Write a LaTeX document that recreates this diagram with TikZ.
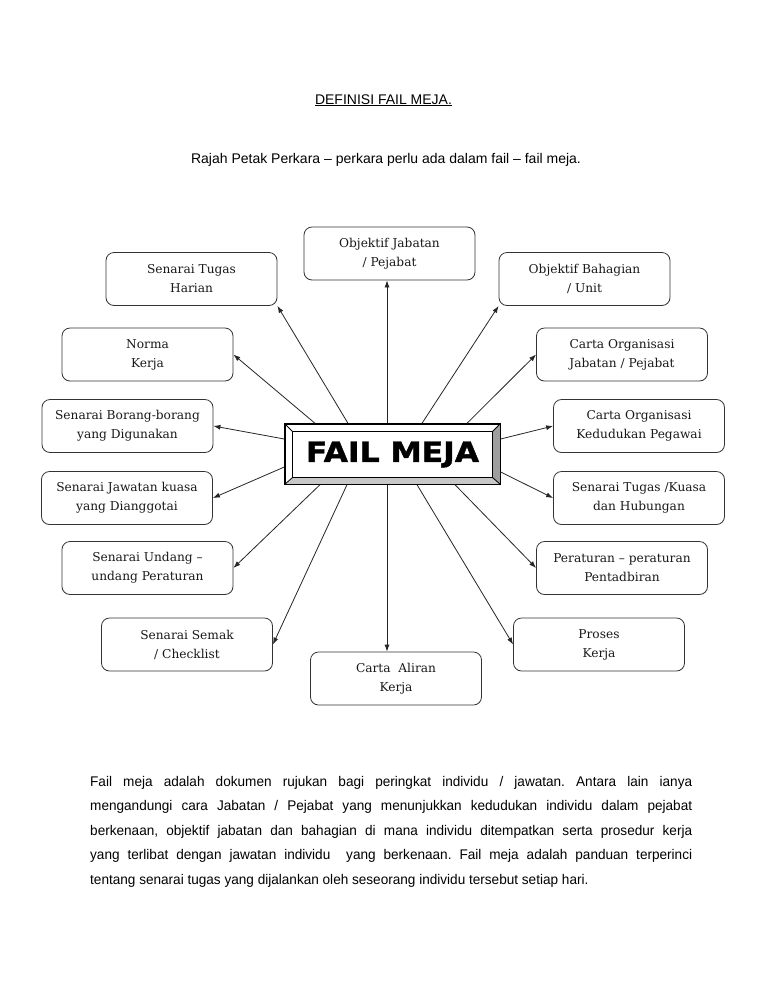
\documentclass[tikz,border=0pt]{standalone}
\usepackage{fontspec}
\usetikzlibrary{arrows.meta}
\setmainfont{Liberation Sans}
\newfontfamily\boxfont{DejaVu Serif}
\newfontfamily\narrowfont[FakeStretch=0.97]{Liberation Sans}
\newfontfamily\blackfont[FakeStretch=1.12, BoldFeatures={FakeBold=1.6}]{DejaVu Sans}

\tikzset{
    itembox/.style={draw=black!80, line width=0.8pt, rounded corners=8pt,
        minimum width=171pt, minimum height=53pt, inner sep=2pt, align=center,
        text=black!90, font=\boxfont\fontsize{12.2}{19}\selectfont},
    arr/.style={-{Latex[length=7pt,width=5pt]}, line width=0.8pt, black!85},
}

\begin{document}
\begin{tikzpicture}[x=1pt, y=-1pt]
    \useasboundingbox[fill=white] (0,0) rectangle (768,994);

    % titles
    \node[anchor=base, font=\fontsize{14}{17}\selectfont] (title) at (383.5,104) {\underline{DEFINISI FAIL MEJA.}};
    \node[anchor=base, font=\fontsize{14}{17}\selectfont] (subtitle) at (386,163) {Rajah Petak Perkara – perkara perlu ada dalam fail – fail meja.};

    % centre box
    \node[draw, line width=1.4pt, fill=white, minimum width=215pt, minimum height=60pt, inner sep=0pt] (fm) at (392.5,454) {};
    \fill[black!22] (fm.south west) -- (fm.south east) -- ([xshift=-8pt,yshift=7pt]fm.south east) -- ([xshift=8pt,yshift=7pt]fm.south west) -- cycle;
    \fill[black!38] (fm.south east) -- (fm.north east) -- ([xshift=-8pt,yshift=-8pt]fm.north east) -- ([xshift=-8pt,yshift=7pt]fm.south east) -- cycle;
    \draw[line width=1.2pt] ([xshift=8pt,yshift=-8pt]fm.north west) rectangle ([xshift=-8pt,yshift=7pt]fm.south east);
    \draw[line width=0.8pt] (fm.north west) -- ([xshift=8pt,yshift=-8pt]fm.north west)
        (fm.north east) -- ([xshift=-8pt,yshift=-8pt]fm.north east)
        (fm.south west) -- ([xshift=8pt,yshift=7pt]fm.south west)
        (fm.south east) -- ([xshift=-8pt,yshift=7pt]fm.south east);
    \draw[line width=1.4pt] (fm.north west) rectangle (fm.south east);
    \node[font=\blackfont\bfseries\fontsize{28}{30}\selectfont] (fmtext) at (392.5,454.5) {FAIL MEJA};

    % items
    \node[itembox] (jabatan) at (389.5,253.5) {Objektif Jabatan\\/ Pejabat};
    \node[itembox] (harian) at (191.5,279) {Senarai Tugas\\Harian};
    \node[itembox] (bahagian) at (584.5,279) {Objektif Bahagian\\/ Unit};
    \node[itembox] (norma) at (147.5,354.5) {Norma\\Kerja};
    \node[itembox] (cartajab) at (622,354.5) {Carta Organisasi\\Jabatan / Pejabat};
    \node[itembox] (borang) at (127.5,426) {Senarai Borang-borang\\yang Digunakan};
    \node[itembox] (kedudukan) at (639,426) {Carta Organisasi\\Kedudukan Pegawai};
    \node[itembox] (jawatan) at (127,498) {Senarai Jawatan kuasa\\yang Dianggotai};
    \node[itembox] (tugaskuasa) at (639,498) {Senarai Tugas /Kuasa\\dan Hubungan};
    \node[itembox] (undang) at (147.5,568) {Senarai Undang –\\undang Peraturan};
    \node[itembox] (peraturan) at (622,568) {Peraturan – peraturan\\Pentadbiran};
    \node[itembox] (semak) at (187,644.5) {Senarai Semak\\/ Checklist};
    \node[itembox] (proses) at (599,644.5) {Proses\\Kerja};
    \node[itembox] (aliran) at (396,678.5) {Carta\ \ Aliran\\Kerja};

    % arrows
    \draw[arr] ([xshift=-5.5pt]fm.north) -- ([xshift=-5.5pt]fm.north |- jabatan.south);
    \draw[arr] ([xshift=-44.5pt]fm.north) -- (harian.south east);
    \draw[arr] ([xshift=-77.5pt]fm.north) -- (norma.east);
    \draw[arr] ([xshift=29.5pt]fm.north) -- (bahagian.south west);
    \draw[arr] ([xshift=74.5pt]fm.north) -- (cartajab.west);
    \draw[arr] ([yshift=15pt]fm.west) -- (borang.east);
    \draw[arr] ([yshift=15pt]fm.east) -- (kedudukan.west);
    \draw[arr] ([yshift=-13pt]fm.west) -- (jawatan.east);
    \draw[arr] ([yshift=-18pt]fm.east) -- (tugaskuasa.west);
    \draw[arr] ([xshift=-72.5pt]fm.south) -- (undang.east);
    \draw[arr] ([xshift=-45.5pt]fm.south) -- (semak.east);
    \draw[arr] ([xshift=-5.5pt]fm.south) -- ([xshift=-5.5pt]fm.south |- aliran.north);
    \draw[arr] ([xshift=24.5pt]fm.south) -- (proses.west);
    \draw[arr] ([xshift=62.5pt]fm.south) -- (peraturan.west);

    % paragraph
    \node[anchor=north west, inner sep=0pt, text width=602pt, align=justify,
        font=\narrowfont\fontsize{14}{24.5}\selectfont\frenchspacing] (para) at (90,776)
        {Fail meja adalah dokumen rujukan bagi peringkat individu / jawatan. Antara lain ianya\linebreak
        mengandungi cara Jabatan / Pejabat yang menunjukkan kedudukan individu dalam pejabat\linebreak
        berkenaan, objektif jabatan dan bahagian di mana individu ditempatkan serta prosedur kerja\linebreak
        yang terlibat dengan jawatan individu\ \ yang berkenaan. Fail meja adalah panduan terperinci\linebreak
        tentang senarai tugas yang dijalankan oleh seseorang individu tersebut setiap hari.};
\end{tikzpicture}
\end{document}
